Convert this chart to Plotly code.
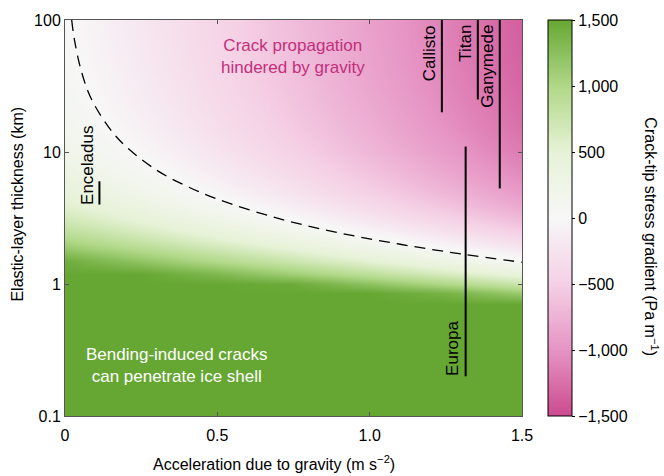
import plotly.graph_objects as go
import numpy as np

# ---------------- data ----------------
gravity = [0, 0.25, 0.5, 0.75, 1.0, 1.25, 1.5]
thickness = [0.08, 0.1, 0.3, 0.5, 0.7, 0.85, 1, 1.2, 1.5, 2, 2.5, 3, 4, 5, 7,
             10, 15, 20, 30, 50, 70, 100, 120]
stress_gradient = [
    [1500, 1500, 1500, 1500, 1500, 1500, 1500],
    [1500, 1500, 1500, 1500, 1500, 1500, 1500],
    [1500, 1500, 1500, 1500, 1500, 1500, 1500],
    [1500, 1500, 1500, 1500, 1500, 1500, 1500],
    [1500, 1500, 1500, 1500, 1500, 1500, 1500],
    [1500, 1500, 1500, 1500, 1500, 1379, 1149],
    [1500, 1500, 1500, 1460, 1230, 1000, 770],
    [1500, 1500, 1332, 1102, 872, 642, 412],
    [1433, 1203, 973, 743, 513, 283, 53],
    [1075, 845, 615, 385, 155, -75, -305],
    [860, 630, 400, 170, -60, -290, -520],
    [717, 487, 257, 27, -203, -433, -663],
    [538, 308, 78, -152, -382, -612, -842],
    [430, 200, -30, -260, -490, -720, -950],
    [307, 77, -153, -383, -613, -843, -1073],
    [215, -15, -245, -475, -705, -935, -1165],
    [143, -87, -317, -547, -777, -1007, -1237],
    [108, -122, -352, -582, -812, -1042, -1272],
    [72, -158, -388, -618, -848, -1078, -1308],
    [43, -187, -417, -647, -877, -1107, -1337],
    [31, -199, -429, -659, -889, -1119, -1349],
    [22, -208, -438, -668, -898, -1128, -1358],
    [18, -212, -442, -672, -902, -1132, -1362],
]

# dashed boundary curve
boundary_g = [0.022, 0.03, 0.05, 0.075, 0.1, 0.15, 0.2, 0.3, 0.4, 0.5, 0.7, 0.9, 1.1, 1.3, 1.5]
boundary_h = [100, 73, 44, 29, 22, 14.7, 11, 7.3, 5.5, 4.4, 3.14, 2.44, 2.0, 1.69, 1.46]

# moons
moon_names = ["Enceladus", "Europa", "Callisto", "Titan", "Ganymede"]
moon_g = [0.113, 1.315, 1.237, 1.355, 1.427]
moon_h_min = [4.0, 0.2, 20, 25, 5.3]
moon_h_max = [6.0, 11, 100, 100, 100]

x_tickvals = [0, 0.5, 1.0, 1.5]
x_ticktext = ["0", "0.5", "1.0", "1.5"]
y_tickvals = [0.1, 1, 10, 100]
y_ticktext = ["0.1", "1", "10", "100"]
cb_tickvals = [1500, 1000, 500, 0, -500, -1000, -1500]
cb_ticktext = ["1,500", "1,000", "500", "0", "\u2212500", "\u22121,000", "\u22121,500"]

# ---------------- figure ----------------
FONT = "Liberation Sans, Arial, Helvetica, sans-serif"
colorscale = [
    [0.0, "#cb4a8f"],
    [0.1667, "#e694c4"],
    [0.3333, "#f5d0e5"],
    [0.5, "#f7f7f7"],
    [0.6667, "#e6f2d6"],
    [0.8333, "#b0d887"],
    [1.0, "#66a733"],
]

fig = go.Figure()
fig.add_trace(go.Heatmap(
    x=gravity, y=thickness, z=stress_gradient,
    zmin=-1500, zmax=1500, zsmooth="best",
    colorscale=colorscale,
    hoverinfo="skip",
    colorbar=dict(
        x=1.057, xanchor="left", xpad=0, y=0.5, yanchor="middle", ypad=0,
        len=1, lenmode="fraction", thickness=24,
        outlinewidth=1, outlinecolor="black",
        tickvals=cb_tickvals, ticktext=cb_ticktext,
        ticks="outside", ticklen=3, tickcolor="black",
        tickfont=dict(family=FONT, size=16, color="black"),
    ),
))

fig.add_trace(go.Scatter(
    x=boundary_g, y=boundary_h, mode="lines",
    line=dict(color="black", width=1.3, dash="11px,7px", shape="spline"),
    hoverinfo="skip", showlegend=False,
))

for name, g, h0, h1 in zip(moon_names, moon_g, moon_h_min, moon_h_max):
    fig.add_trace(go.Scatter(
        x=[g, g], y=[h0, h1], mode="lines",
        line=dict(color="black", width=2),
        hoverinfo="skip", showlegend=False,
    ))

annotations = []
for name, g, h0, h1 in zip(moon_names, moon_g, moon_h_min, moon_h_max):
    if h1 >= 100:
        annotations.append(dict(
            text=name, x=g, xref="x", y=1, yref="paper",
            xanchor="right", yanchor="top", textangle=-90,
            xshift=-1, yshift=-3, showarrow=False,
            font=dict(family=FONT, size=17, color="black")))
    else:
        annotations.append(dict(
            text=name, x=g, xref="x", y=float(np.log10(h0)), yref="y",
            xanchor="right", yanchor="bottom", textangle=-90,
            xshift=-1, yshift=-2, showarrow=False,
            font=dict(family=FONT, size=17, color="black")))

annotations += [
    dict(text="Crack propagation<br>hindered by gravity", x=0.499, y=0.909,
         xref="paper", yref="paper", xanchor="center", yanchor="middle",
         showarrow=False, font=dict(family=FONT, size=17, color="#c2307c")),
    dict(text="Bending-induced cracks<br>can penetrate ice shell", x=0.244, y=0.127,
         xref="paper", yref="paper", xanchor="center", yanchor="middle",
         showarrow=False, font=dict(family=FONT, size=17, color="white")),
    dict(text="Acceleration due to gravity (m s<sup>\u22122</sup>)", x=0.458,
         y=(416 - 463) / 399, xref="paper", yref="paper",
         xanchor="center", yanchor="middle", showarrow=False,
         font=dict(family=FONT, size=16, color="black")),
    dict(text="Elastic-layer thickness (km)", x=(18 - 65) / 457, y=(416 - 203) / 399,
         xref="paper", yref="paper", xanchor="center", yanchor="middle",
         showarrow=False, textangle=-90,
         font=dict(family=FONT, size=16, color="black")),
    dict(text="Crack-tip stress gradient (Pa m<sup>\u22121</sup>)",
         x=(663 - 65) / 457, y=(416 - 235) / 399,
         xref="paper", yref="paper", xanchor="right", yanchor="middle",
         showarrow=False, textangle=90,
         font=dict(family=FONT, size=16, color="black")),
]

fig.update_layout(
    width=664, height=476,
    margin=dict(l=65, r=142, t=17, b=60, pad=0),
    paper_bgcolor="white", plot_bgcolor="white",
    font=dict(family=FONT, size=16, color="black"),
    showlegend=False,
    annotations=annotations,
    xaxis=dict(
        range=[0, 1.5], tickvals=x_tickvals, ticktext=x_ticktext,
        showgrid=False, zeroline=False, showline=True, linecolor="#555",
        linewidth=1, mirror="ticks", ticks="inside", ticklen=4, tickcolor="#555",
        ticklabelstandoff=5,
        tickfont=dict(family=FONT, size=16, color="black"),
    ),
    yaxis=dict(
        type="log", range=[-1, 2], tickvals=y_tickvals, ticktext=y_ticktext,
        showgrid=False, zeroline=False, showline=True, linecolor="#555",
        linewidth=1, mirror="ticks", ticks="inside", ticklen=4, tickcolor="#555",
        tickfont=dict(family=FONT, size=16, color="black"),
    ),
)

fig.write_html(
    "out.html",
    config={"displayModeBar": False},
    post_script="document.body.style.margin='0';document.body.style.padding='0';",
)
